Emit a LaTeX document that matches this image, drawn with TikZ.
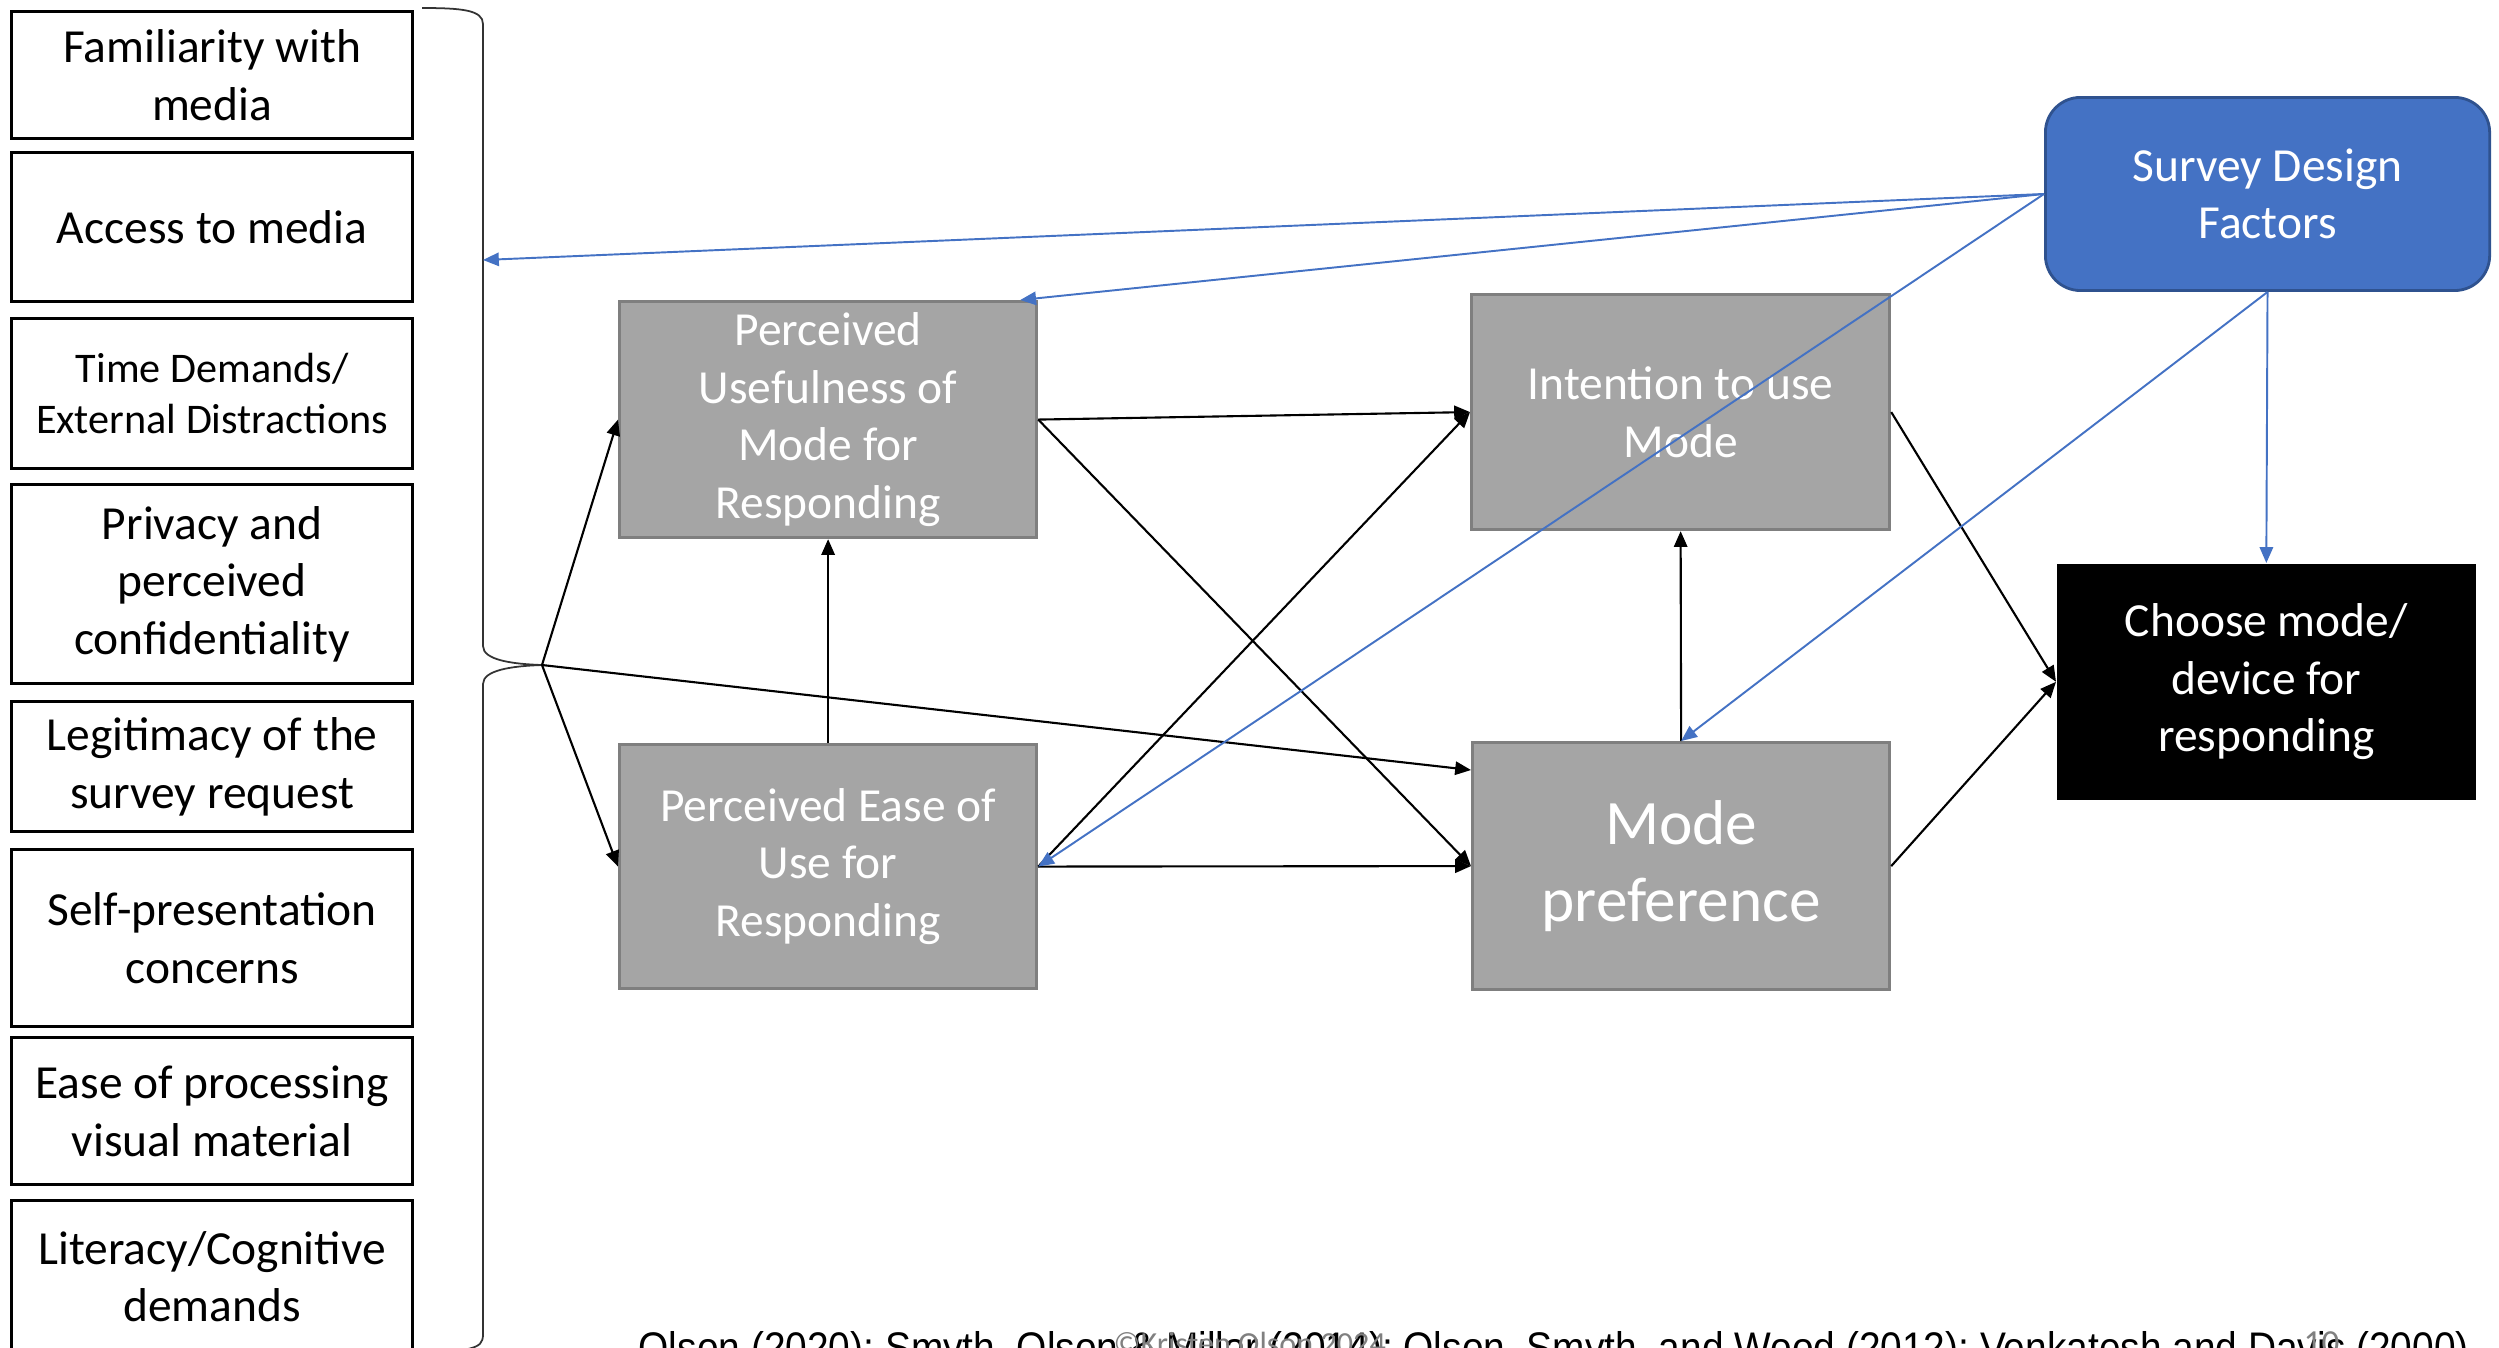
\documentclass[tikz,border=0pt]{standalone}
\usepackage{fontspec}
\usepackage{graphicx}
\setmainfont{Carlito}
\newfontfamily\citefont{Liberation Sans}
\usetikzlibrary{arrows.meta,calc}
\definecolor{sdblue}{HTML}{4472C4}
\definecolor{sdedge}{HTML}{2F528F}
\definecolor{boxgray}{HTML}{A5A5A5}
\definecolor{boxedge}{HTML}{7F7F7F}
\tikzset{
  factor/.style={draw, line width=0.85pt, anchor=north west, align=center,
    minimum width=4.01cm, inner sep=1pt, font=\fontsize{13.5}{16.4}\selectfont},
  construct/.style={draw=boxedge, fill=boxgray, text=white, line width=0.85pt,
    anchor=north west, align=center, minimum width=4.17cm, inner sep=1pt,
    font=\fontsize{13.5}{16.4}\selectfont},
  link/.style={-{Triangle[length=4.5pt,width=3.8pt]}, line width=0.6pt},
  design/.style={link, draw=sdblue, fill=sdblue, line width=0.55pt},
}

\begin{document}
\begin{tikzpicture}[x=0.01cm, y=-0.01cm]
\useasboundingbox (0,0) rectangle (2499,1347);
% factors on the left
\node[factor, minimum height=1.27cm] (fam) at (10,10) {Familiarity with\\media};
\node[factor, minimum height=1.49cm] (acc) at (10,151) {Access to media};
\node[factor, minimum height=1.50cm, font=\fontsize{12}{14.5}\selectfont] (tim) at (10,317) {Time Demands/\\External Distractions};
\node[factor, minimum height=1.99cm] (pri) at (10,483) {Privacy and\\perceived\\confidentiality};
\node[factor, minimum height=1.30cm] (leg) at (10,700) {Legitimacy of the\\survey request};
\node[factor, minimum height=1.77cm] (sel) at (10,848) {Self-presentation\\concerns};
\node[factor, minimum height=1.47cm] (eas) at (10,1036) {Ease of processing\\visual material};
\node[factor, minimum height=1.52cm] (lit) at (10,1199) {Literacy/Cognitive\\demands};
% brace
\draw[line width=0.5pt, draw=black!80] (422,8) .. controls (462,8) and (483,10) .. (483,24)
  -- (483,646) .. controls (483,660) and (512,664) .. (542,665)
  .. controls (512,666) and (483,670) .. (483,684)
  -- (483,1334) .. controls (483,1343) and (480,1346) .. (468,1349);
\coordinate (tip) at (542,665);
\coordinate (brc) at (483,260);
% constructs
\node[construct, minimum height=2.36cm] (pu) at (618,300) {Perceived\\Usefulness of\\Mode for\\Responding};
\node[construct, minimum height=2.44cm] (peu) at (618,743) {Perceived Ease of\\Use for\\Responding};
\node[construct, minimum height=2.35cm, minimum width=4.18cm] (int) at (1470,293) {Intention to use\\Mode};
\node[construct, minimum height=2.47cm, font=\fontsize{18}{21.8}\selectfont] (mp) at (1471,741) {Mode\\preference};
\node[draw=sdedge, fill=sdblue, text=white, line width=0.8pt, rounded corners=0.35cm,
  anchor=north west, align=center, minimum width=4.44cm, minimum height=1.93cm,
  font=\fontsize{13.5}{16.4}\selectfont] (sdf) at (2044,96) {Survey Design\\Factors};
\node[fill=black, text=white, anchor=north west, align=center, minimum width=4.19cm,
  minimum height=2.36cm, font=\fontsize{13.5}{16.4}\selectfont] (ch) at (2056,563) {Choose mode/\\device for\\responding};
\coordinate (mpin) at ($(mp.north west)+(0,29)$);
\coordinate (putop) at ($(pu.north east)+(-18,0)$);
% black paths
\draw[link] (tip) -- (pu.west);
\draw[link] (tip) -- (peu.west);
\draw[link] (tip) -- (mpin);
\draw[link] (peu.north) -- (pu.south);
\draw[link] (pu.east) -- (int.west);
\draw[link] (pu.east) -- (mp.west);
\draw[link] (peu.east) -- (int.west);
\draw[link] (peu.east) -- (mp.west);
\draw[link] (mp.north) -- (int.south);
\draw[link] (int.east) -- (ch.west);
\draw[link] (mp.east) -- (ch.west);
% survey design
\draw[design] (sdf.west) -- (brc);
\draw[design] (sdf.west) -- (putop);
\draw[design] (sdf.west) -- (peu.east);
\draw[design] (sdf.south) -- (mp.north);
\draw[design] (sdf.south) -- (ch.north);
% footer, cut by the page edge
\begin{scope}
\clip (0,0) rectangle (2499,1347);
\node[anchor=base west, inner sep=0] (cite) at (638,1362) {\resizebox{18.29cm}{0.31cm}{\citefont Olson (2020); Smyth, Olson \& Millar (2014); Olson, Smyth, and Wood (2012); Venkatesh and Davis (2000)}};
\node[anchor=base west, inner sep=0, text=gray] (copy) at (1113,1354) {\resizebox{2.72cm}{!}{©Kristen Olson 2024}};
\node[anchor=base west, inner sep=0, text=gray, font=\fontsize{10}{12}\selectfont] (slide) at (2303,1354) {10};
\end{scope}
\end{tikzpicture}
\end{document}
